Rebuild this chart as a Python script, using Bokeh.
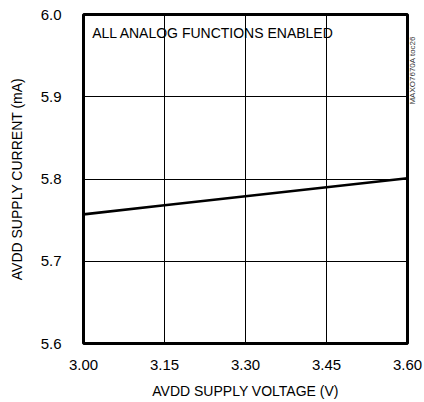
from bokeh.plotting import figure
from bokeh.models import Range1d, FixedTicker, Label, LinearAxis
from bokeh.embed import file_html
from bokeh.resources import INLINE
import math

voltage = [3.00, 3.15, 3.30, 3.45, 3.60]
current = [5.757, 5.768, 5.779, 5.790, 5.801]
x_ticks = [3.00, 3.15, 3.30, 3.45, 3.60]
x_tick_labels = ["3.00", "3.15", "3.30", "3.45", "3.60"]
y_ticks = [5.6, 5.7, 5.8, 5.9, 6.0]
y_tick_labels = ["5.6", "5.7", "5.8", "5.9", "6.0"]
tag_text = "MAXO7670A toc26"
tag_pos = 5.977

FONT = "Liberation Sans"

p = figure(width=424, height=402, output_backend="svg", toolbar_location=None,
           x_range=Range1d(3.0, 3.6), y_range=Range1d(5.6, 6.0),
           min_border_left=83, min_border_right=11, min_border_top=14, min_border_bottom=59)

p.line(voltage, current, line_color="black", line_width=2.6)

p.outline_line_color = "black"
p.outline_line_width = 3
p.outline_line_alpha = 1

for ax in (p.xaxis[0], p.yaxis[0]):
    ax.axis_line_color = None
    ax.major_tick_line_color = None
    ax.minor_tick_line_color = None
    ax.major_label_text_font = FONT
    ax.major_label_text_font_size = "15px"
    ax.major_label_text_color = "black"
    ax.axis_label_text_font = FONT
    ax.axis_label_text_font_size = "14px"
    ax.axis_label_text_font_style = "normal"
    ax.axis_label_text_color = "black"

p.xaxis.ticker = FixedTicker(ticks=x_ticks)
p.xaxis.major_label_overrides = {t: l for t, l in zip(x_ticks, x_tick_labels)}
p.yaxis.ticker = FixedTicker(ticks=y_ticks)
p.yaxis.major_label_overrides = {t: l for t, l in zip(y_ticks, y_tick_labels)}
p.xaxis.axis_label = "AVDD SUPPLY VOLTAGE (V)"
p.yaxis.axis_label = "AVDD SUPPLY CURRENT (mA)"
p.xaxis.major_label_standoff = 10
p.xaxis.axis_label_standoff = 10
p.yaxis.major_label_standoff = 16
p.yaxis.axis_label_standoff = 13

p.xgrid.ticker = FixedTicker(ticks=x_ticks)
p.ygrid.ticker = FixedTicker(ticks=y_ticks)
p.grid.grid_line_color = "black"
p.grid.grid_line_width = 1
p.grid.grid_line_alpha = 1

p.add_layout(Label(x=3.016, y=5.987, text="ALL ANALOG FUNCTIONS ENABLED",
                   text_font=FONT, text_font_size="14px", text_color="black",
                   text_baseline="top"))

tag_axis = LinearAxis(ticker=FixedTicker(ticks=[tag_pos]),
                      major_label_overrides={tag_pos: tag_text},
                      major_label_orientation=math.pi / 2,
                      major_label_standoff=5,
                      major_label_text_font=FONT,
                      major_label_text_font_size="8px",
                      major_label_text_color="#333333",
                      axis_line_color=None,
                      major_tick_line_color=None,
                      minor_tick_line_color=None,
                      major_tick_out=0, major_tick_in=0,
                      minor_tick_out=0, minor_tick_in=0)
p.add_layout(tag_axis, "right")

p.background_fill_color = "white"
p.border_fill_color = "white"

open("out.html", "w").write(file_html(p, INLINE))
